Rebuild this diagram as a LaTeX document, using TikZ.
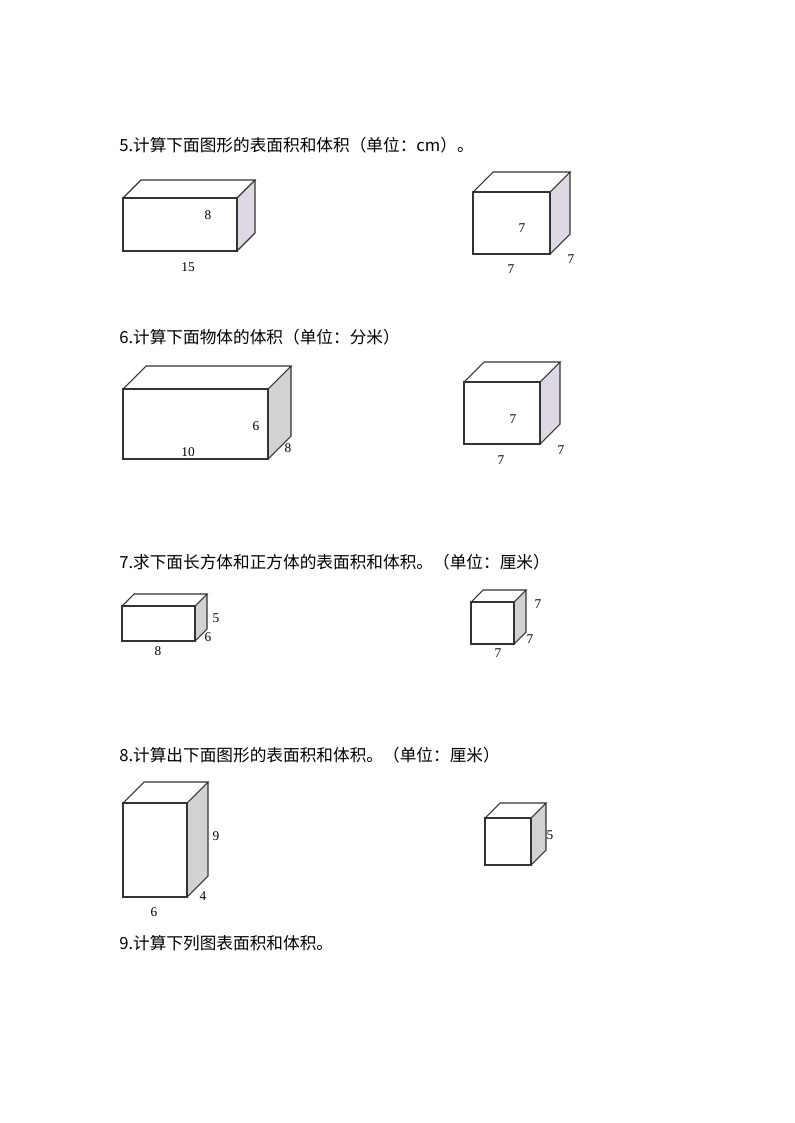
\documentclass[tikz,border=0pt]{standalone}
\usepackage{fontspec}
\setmainfont{Liberation Serif}
\newfontfamily\cjk{Noto Sans CJK SC}
\definecolor{lavside}{RGB}{222,216,228}
\tikzset{
  title/.style={anchor=west, font=\cjk\fontsize{12.5pt}{14pt}\selectfont, inner sep=0pt},
  dimlabel/.style={font=\fontsize{10pt}{11pt}\selectfont, inner sep=0pt},
  edge/.style={draw=black!80, line width=0.8pt},
}
% cuboid: front left x, right x, top y, bottom y, depth offset, side colour
\newcommand{\cuboid}[6]{
  \fill[#6] (#2,#4) -- (#2,#3) -- (#2+#5,#3-#5) -- (#2+#5,#4-#5) -- cycle;
  \draw[edge] (#1,#3) rectangle (#2,#4);
  \draw[edge] (#1,#3) -- (#1+#5,#3-#5) -- (#2+#5,#3-#5) -- (#2,#3);
  \draw[edge] (#2+#5,#3-#5) -- (#2+#5,#4-#5) -- (#2,#4);
}
\begin{document}
\begin{tikzpicture}[x=0.75pt, y=-0.75pt]
  \useasboundingbox (0,0) rectangle (794,1123);
  % 题目标题
  \node[title] (t5) at (119,145) {5.计算下面图形的表面积和体积（单位：cm）。};
  \node[title] (t6) at (119,337) {6.计算下面物体的体积（单位：分米）};
  \node[title] (t7) at (119,562) {7.求下面长方体和正方体的表面积和体积。（单位：厘米）};
  \node[title] (t8) at (119,755) {8.计算出下面图形的表面积和体积。（单位：厘米）};
  \node[title] (t9) at (119,943) {9.计算下列图表面积和体积。};

  % 第5题
  \cuboid{123}{237}{198}{251}{18}{lavside}
  \node[dimlabel] (a1) at (208,215) {8};
  \node[dimlabel] (a2) at (188,267) {15};
  \cuboid{473}{550}{192}{254}{20}{lavside}
  \node[dimlabel] (b1) at (522,228) {7};
  \node[dimlabel] (b2) at (511,269) {7};
  \node[dimlabel] (b3) at (571,259) {7};

  % 第6题
  \cuboid{123}{268}{389}{459}{23}{gray!35}
  \node[dimlabel] (c1) at (256,426) {6};
  \node[dimlabel] (c2) at (188,452) {10};
  \node[dimlabel] (c3) at (288,448) {8};
  \cuboid{464}{540}{382}{444}{20}{lavside}
  \node[dimlabel] (d1) at (513,419) {7};
  \node[dimlabel] (d2) at (501,460) {7};
  \node[dimlabel] (d3) at (561,450) {7};

  % 第7题
  \cuboid{122}{195}{606}{641}{12}{gray!35}
  \node[dimlabel] (e1) at (216,618) {5};
  \node[dimlabel] (e2) at (208,637) {6};
  \node[dimlabel] (e3) at (158,651) {8};
  \cuboid{471}{514}{602}{644}{12}{gray!35}
  \node[dimlabel] (f1) at (538,604) {7};
  \node[dimlabel] (f2) at (530,639) {7};
  \node[dimlabel] (f3) at (498,653) {7};

  % 第8题
  \cuboid{123}{187}{803}{897}{21}{gray!35}
  \node[dimlabel] (g1) at (216,836) {9};
  \node[dimlabel] (g2) at (203,896) {4};
  \node[dimlabel] (g3) at (154,912) {6};
  \cuboid{485}{531}{818}{865}{15}{gray!35}
  \node[dimlabel] (h1) at (550,835) {5};
\end{tikzpicture}
\end{document}
